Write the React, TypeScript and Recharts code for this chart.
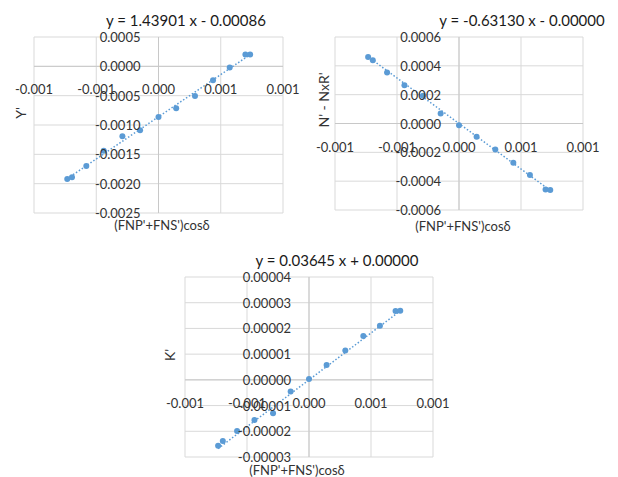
import { ScatterChart, Scatter, XAxis, YAxis, CartesianGrid, ReferenceLine } from "recharts";

// shared x values: (FNP'+FNS')cosδ
const fnsCos = [
  -0.000733, -0.000695, -0.00058, -0.00044, -0.00029, -0.000148, 0, 0.000142, 0.000293, 0.000438,
  0.000572, 0.000698, 0.000736,
];
const xTicks = [-0.001, -0.0005, 0, 0.0005, 0.001];

const yPrime = [
  -0.00192, -0.00189, -0.0017, -0.00144, -0.00119, -0.00109, -0.000865, -0.000713, -0.000506,
  -0.000236, -0.000022, 0.000202, 0.000202,
];
const yPrimeTicks = [-0.0025, -0.002, -0.0015, -0.001, -0.0005, 0, 0.0005];

const nMinusNxR = [
  0.000462, 0.000439, 0.000354, 0.000266, 0.000192, 0.000069, -0.000012, -0.000092, -0.00018,
  -0.000273, -0.000358, -0.000458, -0.000462,
];
const nTicks = [-0.0006, -0.0004, -0.0002, 0, 0.0002, 0.0004, 0.0006];

const kPrime = [
  -0.0000256, -0.0000238, -0.0000199, -0.0000156, -0.000013, -0.0000045, 0.0000003, 0.0000058,
  0.0000114, 0.0000171, 0.000021, 0.0000268, 0.0000269,
];
const kTicks = [-0.00003, -0.00002, -0.00001, 0, 0.00001, 0.00002, 0.00003, 0.00004];

const BLUE = "#5b9bd5";
const GRID = "#d9d9d9";
const TEXT = "#333";
const FONT = "Lato, 'Open Sans', sans-serif";
const AX = 10; // room given to the (invisible) axes

type PanelProps = {
  left: number;
  top: number;
  width: number;
  height: number;
  margin: { top: number; right: number; bottom: number; left: number };
  ys: number[];
  yTicks: number[];
  yDigits: number;
  slope: number;
  intercept: number;
  title: string;
  yTitle: string;
  titleAt: [number, number];
  xTitleAt: [number, number];
  yTitleAt: [number, number];
};

function Panel(p: PanelProps) {
  const data = fnsCos.map((x, i) => ({ x, y: p.ys[i] }));
  const x0 = Math.min(...fnsCos);
  const x1 = Math.max(...fnsCos);
  const trend = [
    { x: x0, y: p.slope * x0 + p.intercept },
    { x: x1, y: p.slope * x1 + p.intercept },
  ];
  const yMin = p.yTicks[0];
  const yMax = p.yTicks[p.yTicks.length - 1];
  const plotW = p.width - p.margin.left - p.margin.right;
  const plotH = p.height - p.margin.top - p.margin.bottom;
  const zeroY = p.margin.top + (plotH * yMax) / (yMax - yMin);
  const zeroX = p.margin.left + plotW / 2;

  const label = (x: number, y: number, text: string, size: number, rotate = false) => (
    <div
      style={{
        position: "absolute",
        left: x - p.left,
        top: y - p.top,
        transform: `translate(-50%, -50%)${rotate ? " rotate(-90deg)" : ""}`,
        whiteSpace: "nowrap",
        fontSize: size,
        color: size < 14.5 ? TEXT : "#1a1a1a",
        lineHeight: 1,
      }}
    >
      {text}
    </div>
  );

  return (
    <div style={{ position: "absolute", left: p.left, top: p.top, width: p.width, height: p.height }}>
      <ScatterChart
        width={p.width}
        height={p.height}
        margin={{ ...p.margin, left: p.margin.left - AX, bottom: p.margin.bottom - AX }}
      >
        <CartesianGrid stroke={GRID} horizontalValues={p.yTicks} verticalValues={xTicks} />
        <XAxis
          type="number"
          dataKey="x"
          domain={[-0.001, 0.001]}
          ticks={xTicks}
          interval={0}
          height={AX}
          axisLine={false}
          tickLine={false}
          tick={(t: any) => (
            <text
              key={t.index}
              x={t.x}
              y={zeroY + 23}
              textAnchor="middle"
              dominantBaseline="central"
              fontSize={13}
              fill={TEXT}
              fontFamily={FONT}
            >
              {Number(t.payload.value).toFixed(3)}
            </text>
          )}
        />
        <YAxis
          type="number"
          dataKey="y"
          domain={[yMin, yMax]}
          ticks={p.yTicks}
          interval={0}
          width={AX}
          axisLine={false}
          tickLine={false}
          tick={(t: any) => (
            <text
              key={t.index}
              x={zeroX - 18}
              y={t.y}
              textAnchor="end"
              dominantBaseline="central"
              fontSize={13}
              fill={TEXT}
              fontFamily={FONT}
            >
              {Number(t.payload.value).toFixed(p.yDigits)}
            </text>
          )}
        />
        <ReferenceLine x={0} stroke="#c8c8c8" />
        <ReferenceLine y={0} stroke="#c8c8c8" />
        <Scatter
          data={trend}
          isAnimationActive={false}
          line={{ stroke: BLUE, strokeWidth: 1.5, strokeDasharray: "1.5 2" }}
          shape={() => <g />}
        />
        <Scatter
          data={data}
          isAnimationActive={false}
          shape={(s: any) => <circle cx={s.cx} cy={s.cy} r={3} fill={BLUE} />}
        />
      </ScatterChart>
      {label(p.titleAt[0], p.titleAt[1], p.title, 15)}
      {label(p.xTitleAt[0], p.xTitleAt[1], "(FNP'+FNS')cosδ", 13)}
      {label(p.yTitleAt[0], p.yTitleAt[1], p.yTitle, 14, true)}
    </div>
  );
}

export default function App() {
  return (
    <div
      style={{
        position: "absolute",
        left: 0,
        top: 0,
        width: 618,
        height: 477,
        background: "#fff",
        fontFamily: FONT,
      }}
    >
      <Panel
        left={0}
        top={0}
        width={300}
        height={235}
        margin={{ top: 37, right: 17, bottom: 22, left: 34 }}
        ys={yPrime}
        yTicks={yPrimeTicks}
        yDigits={4}
        slope={1.43901}
        intercept={-0.00086}
        title="y = 1.43901 x - 0.00086"
        yTitle="Y'"
        titleAt={[186, 20]}
        xTitleAt={[162, 225]}
        yTitleAt={[21, 113]}
      />
      <Panel
        left={300}
        top={0}
        width={318}
        height={235}
        margin={{ top: 37, right: 35, bottom: 25, left: 35 }}
        ys={nMinusNxR}
        yTicks={nTicks}
        yDigits={4}
        slope={-0.6313}
        intercept={0}
        title="y = -0.63130 x - 0.00000"
        yTitle="N' - NxR'"
        titleAt={[522, 20]}
        xTitleAt={[463, 226]}
        yTitleAt={[324, 100]}
      />
      <Panel
        left={150}
        top={240}
        width={320}
        height={237}
        margin={{ top: 37, right: 37, bottom: 20, left: 35 }}
        ys={kPrime}
        yTicks={kTicks}
        yDigits={5}
        slope={0.03645}
        intercept={0}
        title="y = 0.03645 x + 0.00000"
        yTitle="K'"
        titleAt={[337, 260]}
        xTitleAt={[297, 470]}
        yTitleAt={[170, 355]}
      />
    </div>
  );
}
